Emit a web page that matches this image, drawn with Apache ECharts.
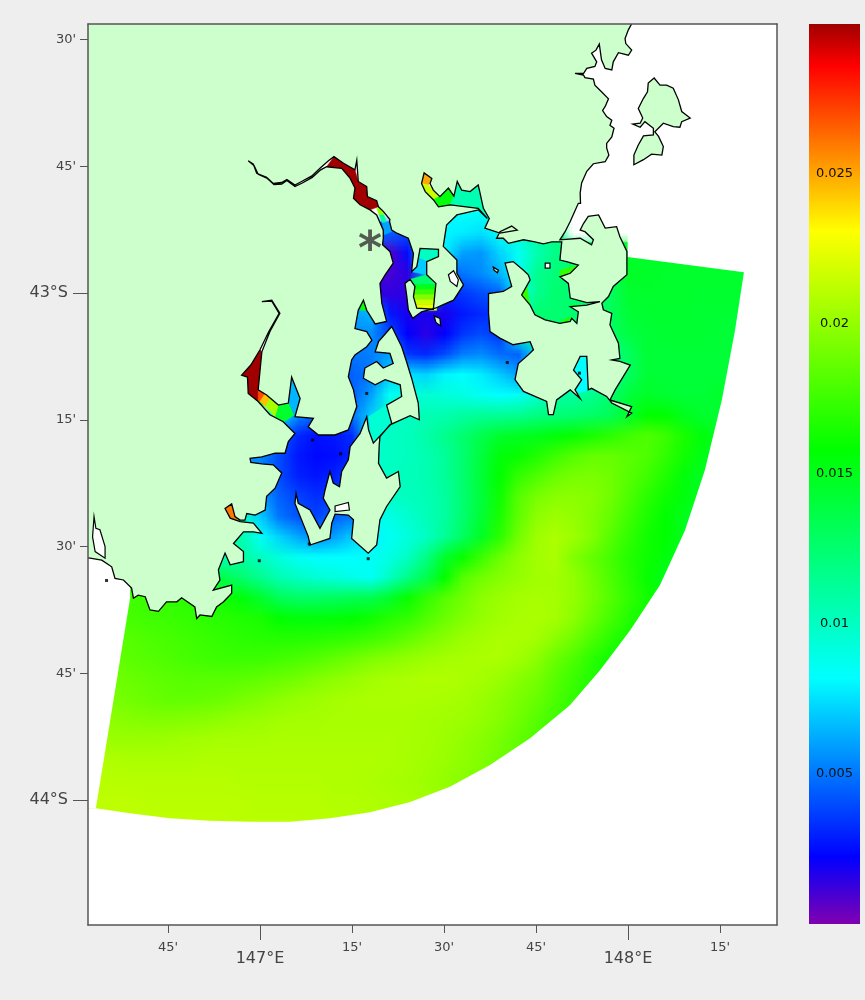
<!DOCTYPE html>
<html>
<head>
<meta charset="utf-8">
<title>Storm Bay field</title>
<style>
html, body { margin: 0; padding: 0; background: #eeeeee; }
#chart { width: 865px; height: 1000px; }
</style>
<script src="https://cdn.jsdelivr.net/npm/echarts@6/dist/echarts.min.js"></script>
</head>
<body>
<div id="chart"></div>
<script>
// axis ticks and labels
var lonMajor = [147, 148], lonMajorLabels = ['147°E', '148°E'];
var lonMinor = [146.75, 147.25, 147.5, 147.75, 148.25], lonMinorLabels = ["45'", "15'", "30'", "45'", "15'"];
var latMajor = [-43, -44], latMajorLabels = ['43°S', '44°S'];
var latMinor = [-42.5, -42.75, -43.25, -43.5, -43.75], latMinorLabels = ["30'", "45'", "15'", "30'", "45'"];
var scaleTicks = [0.005, 0.01, 0.015, 0.02, 0.025];

// colour scale: value, colour
var scaleValues = [0, 0.00223, 0.0082, 0.0158, 0.0231, 0.0286, 0.03];
var scaleColors = ['#8000b0', '#0000ff', '#00ffff', '#00ff00', '#ffff00', '#ff0000', '#a00000'];

// sampled field, units of 0.0001; first number of a row is its first column
var fieldLon0 = 146.55, fieldLonStep = 0.05, fieldLat0 = -42.80, fieldLatStep = -0.04, fieldCols = 37;
var fieldRows = [
  [],
  [18, 82, 82, 82, 85, 88],
  [15, 45, 45, 40, 40, 80, 78, 75, 85, 95, 110, 118],
  [16, 8, 25, 85, 80, 60, 58, 72, 85, 105, 118, 125, 125, 130, 146, 146, 146, 146, 146, 146, 146, 146],
  [16, 10, 15, 60, 40, 50, 55, 65, 85, 115, 122, 125, 125, 130, 146, 146, 145, 145, 145, 145, 145, 145],
  [16, 14, 14, 150, 30, 35, 40, 45, 85, 115, 125, 125, 125, 130, 144, 145, 145, 145, 144, 144, 144, 144],
  [14, 60, 65, 28, 18, 18, 18, 28, 32, 35, 90, 125, 125, 125, 125, 130, 142, 144, 144, 144, 143, 143, 143, 143],
  [14, 55, 55, 40, 22, 15, 22, 35, 40, 35, 90, 125, 125, 125, 125, 128, 138, 142, 143, 143, 143, 142, 142, 142],
  [14, 50, 52, 60, 35, 32, 40, 52, 55, 48, 45, 75, 85, 95, 95, 115, 130, 142, 142, 142, 142, 142, 142, 142],
  [10, 60, 60, 50, 50, 45, 50, 70, 75, 72, 80, 82, 78, 70, 60, 70, 80, 90, 90, 115, 130, 142, 142, 142, 142, 142, 142, 142],
  [9, 155, 60, 55, 50, 45, 45, 60, 85, 92, 95, 93, 90, 85, 82, 85, 95, 110, 110, 115, 125, 140, 146, 143, 142, 142, 145, 145],
  [10, 85, 55, 45, 45, 50, 70, 100, 100, 104, 106, 110, 113, 113, 115, 120, 122, 125, 128, 132, 145, 158, 158, 150, 145, 143, 143],
  [10, 45, 32, 26, 28, 32, 95, 100, 101, 108, 116, 125, 135, 145, 148, 150, 155, 160, 165, 170, 176, 180, 175, 165, 155, 148, 145],
  [8, 60, 55, 40, 28, 24, 25, 30, 95, 100, 101, 105, 112, 125, 140, 155, 160, 167, 175, 182, 187, 187, 184, 180, 172, 163, 152, 148],
  [8, 60, 50, 40, 30, 27, 30, 38, 95, 100, 102, 105, 112, 125, 142, 158, 172, 180, 188, 192, 193, 190, 183, 176, 167, 155, 148, 145],
  [8, 75, 60, 45, 38, 33, 35, 40, 95, 100, 101, 104, 110, 125, 140, 162, 182, 192, 197, 198, 196, 190, 180, 170, 162, 155, 148, 145],
  [7, 105, 100, 70, 50, 42, 38, 45, 50, 85, 90, 96, 103, 110, 125, 142, 165, 185, 198, 203, 200, 195, 187, 176, 166, 158, 150, 145],
  [6, 115, 115, 105, 85, 72, 62, 55, 60, 70, 80, 85, 92, 100, 113, 130, 148, 170, 190, 203, 207, 203, 195, 183, 172, 163, 158, 150, 145],
  [6, 105, 105, 110, 100, 92, 85, 82, 82, 82, 84, 90, 100, 118, 145, 160, 175, 188, 198, 204, 207, 195, 187, 178, 168, 162, 155, 148, 145],
  [2, 170, 165, 160, 150, 140, 135, 125, 115, 105, 100, 95, 92, 88, 85, 100, 118, 135, 158, 182, 190, 196, 200, 204, 205, 200, 190, 180, 170, 160, 150, 145],
  [1, 178, 176, 174, 172, 170, 166, 162, 155, 145, 132, 128, 128, 130, 133, 135, 145, 160, 172, 182, 190, 198, 202, 205, 206, 205, 200, 192, 182, 172, 163, 155, 148],
  [1, 178, 178, 176, 175, 173, 171, 169, 167, 165, 158, 155, 155, 156, 158, 162, 168, 172, 180, 188, 195, 200, 204, 206, 207, 205, 198, 188, 178, 168, 160, 155, 150],
  [0, 184, 184, 182, 180, 178, 176, 174, 172, 170, 169, 168, 168, 169, 171, 173, 176, 180, 186, 192, 197, 202, 205, 207, 207, 205, 198, 190, 180, 170, 163, 158],
  [0, 188, 186, 184, 182, 180, 178, 176, 175, 175, 175, 177, 179, 182, 186, 190, 194, 197, 200, 203, 205, 206, 207, 207, 204, 198, 188, 180, 170, 162, 158],
  [0, 194, 190, 188, 186, 184, 183, 183, 183, 184, 186, 188, 191, 195, 198, 201, 204, 206, 207, 208, 208, 207, 205, 202, 197, 192, 183, 175, 167, 162],
  [0, 197, 193, 190, 188, 186, 186, 187, 189, 192, 195, 198, 201, 203, 205, 206, 207, 207, 207, 207, 206, 205, 202, 198, 193, 188, 180, 172, 165],
  [0, 201, 198, 196, 195, 195, 196, 197, 199, 201, 202, 204, 205, 205, 206, 206, 206, 206, 206, 205, 204, 203, 200, 196, 190, 183, 176, 168],
  [0, 205, 202, 202, 202, 203, 204, 205, 206, 206, 206, 207, 207, 207, 207, 207, 207, 207, 206, 205, 203, 200, 197, 192, 186, 180, 175],
  [0, 209, 208, 207, 207, 207, 207, 208, 208, 208, 208, 208, 208, 208, 208, 208, 208, 207, 206, 204, 202, 199, 195, 190, 185],
  [0, 211, 210, 210, 210, 210, 210, 210, 210, 209, 209, 209, 209, 209, 208, 208, 207, 206, 205, 203, 200, 197, 194],
  [0, 212, 212, 212, 211, 211, 211, 211, 211, 211, 210, 210, 210, 210, 209, 209, 208, 207, 206, 204, 202],
  [0, 212, 212, 212, 212, 212, 212, 212, 212, 211, 211, 211, 211, 210, 210, 209, 208]
];

// model boundary: everything beyond it stays white
var outsideEast = [
  [146.45, -44.30], [146.45, -44.016], [146.554, -44.016], [146.647, -44.026], [146.755, -44.036], [146.864, -44.041],
  [146.973, -44.043], [147.082, -44.043], [147.190, -44.036], [147.299, -44.024], [147.408, -44.004], [147.516, -43.974],
  [147.625, -43.931], [147.734, -43.878], [147.842, -43.813], [147.924, -43.744], [148.006, -43.665], [148.087, -43.576],
  [148.155, -43.468], [148.209, -43.349], [148.255, -43.211], [148.291, -43.073], [148.315, -42.959], [147.999, -42.929],
  [147.999, -42.40], [148.45, -42.40], [148.45, -44.30]
];
var outsideWest = [[146.45, -43.45], [146.647, -43.45], [146.647, -43.602], [146.554, -44.016], [146.45, -44.016]];

// shallow inlets finer than the field rows: value, outline
var inletValues = [0.03, 0.02, 0.011, 0.006, 0.025, 0.0215, 0.0155, 0.0105, 0.0100, 0.0070, 0.0125, 0.015, 0.0175, 0.0195, 0.0215, 0.0225,
  0.03, 0.027, 0.0245, 0.0205, 0.0145, 0.0065, 0.0095, 0.016, 0.026, 0.0172, 0.0172, 0.0165, 0.0165, 0.0082];
var inletShapes = [
  [[147.181, -42.751], [147.201, -42.731], [147.227, -42.744], [147.258, -42.757], [147.267, -42.780], [147.290, -42.790], [147.292, -42.810], [147.317, -42.818], [147.322, -42.830], [147.299, -42.836], [147.272, -42.826], [147.254, -42.813], [147.258, -42.793], [147.245, -42.774], [147.222, -42.754]],
  [[147.317, -42.833], [147.331, -42.833], [147.337, -42.846], [147.324, -42.846]],
  [[147.324, -42.846], [147.337, -42.846], [147.344, -42.862], [147.333, -42.862]],
  [[147.333, -42.862], [147.352, -42.859], [147.358, -42.879], [147.337, -42.885]],
  [[147.446, -42.763], [147.467, -42.774], [147.458, -42.787], [147.439, -42.784]],
  [[147.458, -42.787], [147.471, -42.797], [147.485, -42.810], [147.471, -42.816], [147.449, -42.800], [147.439, -42.784]],
  [[147.485, -42.810], [147.517, -42.790], [147.527, -42.809], [147.517, -42.826], [147.485, -42.830], [147.471, -42.816]],
  [[147.527, -42.809], [147.536, -42.780], [147.548, -42.797], [147.571, -42.800], [147.593, -42.787], [147.598, -42.803], [147.607, -42.833], [147.618, -42.853], [147.593, -42.833], [147.517, -42.826]],
  [[147.435, -42.912], [147.485, -42.914], [147.485, -42.928], [147.453, -42.938], [147.430, -42.930]],
  [[147.430, -42.930], [147.453, -42.938], [147.453, -42.964], [147.412, -42.958], [147.426, -42.948]],
  [[147.408, -42.973], [147.453, -42.964], [147.478, -42.975], [147.478, -42.983], [147.410, -42.983]],
  [[147.410, -42.983], [147.480, -42.983], [147.480, -42.993], [147.410, -42.993]],
  [[147.410, -42.993], [147.480, -42.993], [147.480, -43.003], [147.410, -43.003]],
  [[147.410, -43.003], [147.480, -43.003], [147.480, -43.013], [147.410, -43.013]],
  [[147.410, -43.013], [147.480, -43.013], [147.480, -43.023], [147.410, -43.023]],
  [[147.410, -43.023], [147.480, -43.023], [147.480, -43.034], [147.410, -43.034]],
  [[147.005, -43.116], [146.995, -43.191], [147.005, -43.198], [146.995, -43.214], [146.968, -43.198], [146.966, -43.166], [146.950, -43.162], [146.975, -43.142], [147.000, -43.112]],
  [[146.995, -43.191], [147.014, -43.198], [147.005, -43.211], [146.995, -43.214]],
  [[147.014, -43.198], [147.027, -43.206], [147.015, -43.224], [147.000, -43.214]],
  [[147.027, -43.206], [147.053, -43.219], [147.041, -43.245], [147.015, -43.224]],
  [[147.053, -43.219], [147.080, -43.219], [147.092, -43.241], [147.063, -43.255], [147.041, -43.245]],
  [[147.086, -43.166], [147.109, -43.208], [147.095, -43.244], [147.080, -43.219]],
  [[147.295, -43.244], [147.344, -43.221], [147.358, -43.257], [147.308, -43.296]],
  [[147.281, -43.014], [147.290, -43.034], [147.272, -43.034]],
  [[146.923, -43.416], [146.937, -43.435], [146.946, -43.448], [146.919, -43.444], [146.905, -43.425]],
  [[147.711, -43.004], [147.725, -42.987], [147.734, -43.024]],
  [[147.815, -42.955], [147.865, -42.945], [147.843, -42.964], [147.815, -42.969]],
  [[147.824, -43.053], [147.843, -43.047], [147.844, -43.060], [147.815, -43.060]],
  [[147.843, -43.024], [147.888, -43.024], [147.870, -43.030]],
  [[147.870, -43.125], [147.888, -43.125], [147.892, -43.191], [147.870, -43.197], [147.856, -43.191], [147.874, -43.171], [147.852, -43.152]]
];

// coast, lon/lat; the land runs on past the frame and is clipped there
var mainland = [
  [146.45, -42.40], [148.035, -42.40], [148.010, -42.469], [148.001, -42.481], [147.992, -42.498], [147.994, -42.508], [148.010, -42.521], [148.001, -42.531], [147.974, -42.526],
  [147.960, -42.544], [147.956, -42.560], [147.938, -42.557], [147.928, -42.540], [147.922, -42.509], [147.913, -42.521], [147.901, -42.527], [147.915, -42.544], [147.910, -42.553],
  [147.888, -42.557], [147.879, -42.567], [147.856, -42.567], [147.879, -42.570], [147.883, -42.575], [147.906, -42.578], [147.910, -42.590], [147.928, -42.603], [147.947, -42.617],
  [147.938, -42.632], [147.931, -42.640], [147.942, -42.652], [147.956, -42.659], [147.951, -42.669], [147.962, -42.675], [147.956, -42.692], [147.942, -42.705], [147.942, -42.714],
  [147.948, -42.728], [147.938, -42.741], [147.906, -42.745], [147.888, -42.760], [147.874, -42.783], [147.870, -42.803], [147.871, -42.823],
  [147.865, -42.823], [147.843, -42.859], [147.829, -42.879], [147.815, -42.895],
  [147.870, -42.892], [147.901, -42.905], [147.906, -42.895], [147.883, -42.879], [147.870, -42.876], [147.879, -42.863], [147.892, -42.849], [147.920, -42.846], [147.938, -42.872],
  [147.969, -42.869], [147.978, -42.889], [147.997, -42.918], [147.997, -42.964], [147.960, -42.987], [147.947, -43.007], [147.929, -43.020], [147.933, -43.033], [147.956, -43.040],
  [147.951, -43.063], [147.974, -43.099], [147.978, -43.129], [147.956, -43.132], [147.978, -43.135], [148.006, -43.142], [147.987, -43.165], [147.965, -43.191], [147.951, -43.211],
  [148.010, -43.224], [147.997, -43.244], [148.010, -43.237], [147.956, -43.217], [147.942, -43.204], [147.901, -43.188], [147.892, -43.191], [147.888, -43.125], [147.870, -43.125],
  [147.852, -43.152], [147.874, -43.171], [147.856, -43.191], [147.870, -43.208], [147.843, -43.191], [147.806, -43.211], [147.797, -43.240], [147.784, -43.240], [147.779, -43.214],
  [147.716, -43.194], [147.693, -43.171], [147.702, -43.139], [147.729, -43.122], [147.743, -43.112], [147.734, -43.096], [147.688, -43.102], [147.652, -43.089], [147.625, -43.076],
  [147.621, -43.040], [147.621, -43.001], [147.661, -42.997], [147.684, -42.987], [147.666, -42.941], [147.688, -42.938], [147.716, -42.955], [147.729, -42.964], [147.734, -42.974],
  [147.711, -43.004], [147.734, -43.024], [147.747, -43.043], [147.775, -43.053], [147.815, -43.060], [147.843, -43.056], [147.847, -43.050], [147.861, -43.060], [147.865, -43.037],
  [147.843, -43.027], [147.888, -43.024], [147.924, -43.017], [147.888, -43.019], [147.843, -43.010], [147.838, -42.981], [147.815, -42.968], [147.843, -42.961], [147.865, -42.945],
  [147.833, -42.938], [147.815, -42.935], [147.820, -42.899], [147.793, -42.899], [147.770, -42.903], [147.747, -42.899], [147.716, -42.895], [147.675, -42.902], [147.661, -42.892],
  [147.643, -42.892], [147.652, -42.879], [147.684, -42.868], [147.699, -42.876], [147.652, -42.882], [147.611, -42.872], [147.623, -42.853],
  [147.607, -42.833], [147.598, -42.803], [147.593, -42.787], [147.571, -42.800], [147.548, -42.797], [147.536, -42.780], [147.527, -42.809], [147.512, -42.793], [147.489, -42.810],
  [147.471, -42.797], [147.462, -42.784], [147.467, -42.774], [147.446, -42.763], [147.439, -42.784], [147.449, -42.800], [147.471, -42.816], [147.485, -42.830], [147.517, -42.826],
  [147.593, -42.833], [147.618, -42.853], [147.593, -42.836], [147.535, -42.846], [147.507, -42.866], [147.498, -42.908], [147.535, -42.935], [147.535, -42.961], [147.553, -42.984],
  [147.526, -43.014], [147.498, -43.023], [147.476, -43.030], [147.439, -43.037], [147.415, -43.050], [147.403, -43.033], [147.399, -43.007], [147.394, -42.981], [147.408, -42.973],
  [147.421, -42.987], [147.417, -43.007], [147.426, -43.030], [147.471, -43.032], [147.478, -42.981], [147.453, -42.964], [147.453, -42.938], [147.485, -42.928], [147.485, -42.914],
  [147.435, -42.912], [147.426, -42.948], [147.412, -42.958], [147.417, -42.922], [147.403, -42.892], [147.372, -42.882], [147.358, -42.876], [147.352, -42.859], [147.353, -42.855],
  [147.335, -42.839], [147.322, -42.830], [147.317, -42.818], [147.292, -42.810], [147.290, -42.790], [147.267, -42.780], [147.263, -42.738], [147.258, -42.757], [147.227, -42.744],
  [147.201, -42.731], [147.186, -42.739], [147.163, -42.754], [147.141, -42.769], [147.113, -42.780], [147.095, -42.787], [147.073, -42.776], [147.059, -42.782], [147.036, -42.784],
  [147.018, -42.772], [146.991, -42.764], [146.982, -42.746], [146.968, -42.739], [146.984, -42.749], [146.995, -42.766], [147.020, -42.774], [147.038, -42.786], [147.059, -42.785],
  [147.073, -42.778], [147.095, -42.790], [147.115, -42.783], [147.142, -42.772], [147.165, -42.757], [147.181, -42.751], [147.222, -42.754], [147.245, -42.774], [147.258, -42.793],
  [147.254, -42.813], [147.272, -42.826], [147.299, -42.836], [147.317, -42.846], [147.335, -42.876], [147.335, -42.892], [147.333, -42.905], [147.353, -42.918], [147.362, -42.941],
  [147.340, -42.964], [147.326, -42.981], [147.331, -43.020], [147.344, -43.056], [147.313, -43.061], [147.290, -43.034], [147.281, -43.014], [147.267, -43.034], [147.258, -43.070],
  [147.290, -43.076], [147.304, -43.093], [147.290, -43.106], [147.258, -43.122], [147.249, -43.132], [147.240, -43.165], [147.254, -43.191], [147.263, -43.224], [147.240, -43.270],
  [147.204, -43.280], [147.159, -43.280], [147.131, -43.264], [147.145, -43.247], [147.095, -43.244], [147.109, -43.208], [147.086, -43.166], [147.077, -43.217], [147.050, -43.221],
  [147.018, -43.201], [146.995, -43.191], [147.005, -43.116], [147.027, -43.076], [147.054, -43.040], [147.032, -43.014], [147.005, -43.017], [147.032, -43.016], [147.052, -43.040],
  [147.024, -43.076], [147.000, -43.112], [146.975, -43.142], [146.950, -43.162], [146.966, -43.166], [146.968, -43.198], [146.995, -43.214], [147.027, -43.240], [147.063, -43.254],
  [147.095, -43.277], [147.077, -43.293], [147.068, -43.316], [147.041, -43.316], [147.005, -43.323], [146.973, -43.326], [146.975, -43.334], [147.005, -43.337], [147.036, -43.339],
  [147.059, -43.355], [147.041, -43.385], [147.018, -43.401], [147.014, -43.428], [146.987, -43.438], [146.964, -43.435], [146.959, -43.448], [146.946, -43.448], [146.932, -43.441],
  [146.923, -43.416], [146.905, -43.425], [146.919, -43.444], [146.946, -43.451], [146.982, -43.454], [147.005, -43.474], [146.982, -43.471], [146.955, -43.471], [146.928, -43.494],
  [146.955, -43.510], [146.955, -43.530], [146.919, -43.536], [146.905, -43.513], [146.887, -43.546], [146.891, -43.566], [146.873, -43.586], [146.923, -43.576], [146.923, -43.592],
  [146.901, -43.609], [146.882, -43.619], [146.869, -43.638], [146.837, -43.635], [146.828, -43.642], [146.823, -43.619], [146.787, -43.601], [146.774, -43.609], [146.746, -43.609],
  [146.724, -43.628], [146.701, -43.625], [146.688, -43.599], [146.669, -43.596], [146.656, -43.602], [146.651, -43.582], [146.629, -43.566], [146.606, -43.563], [146.597, -43.540],
  [146.570, -43.527], [146.538, -43.523], [146.45, -43.515]
];
var bruny = [
  [147.358, -43.066], [147.385, -43.106], [147.398, -43.135], [147.412, -43.168], [147.430, -43.217], [147.433, -43.250], [147.408, -43.242], [147.353, -43.260], [147.326, -43.283],
  [147.324, -43.300], [147.322, -43.336], [147.344, -43.365], [147.376, -43.352], [147.381, -43.382], [147.344, -43.421], [147.326, -43.447], [147.317, -43.497], [147.294, -43.513],
  [147.249, -43.484], [147.254, -43.447], [147.240, -43.438], [147.204, -43.436], [147.195, -43.454], [147.190, -43.484], [147.136, -43.497], [147.131, -43.480], [147.095, -43.415],
  [147.098, -43.395], [147.104, -43.415], [147.136, -43.428], [147.163, -43.464], [147.190, -43.428], [147.172, -43.405], [147.177, -43.388], [147.190, -43.352], [147.199, -43.375],
  [147.216, -43.382], [147.222, -43.352], [147.240, -43.329], [147.245, -43.303], [147.272, -43.277], [147.290, -43.244], [147.295, -43.270], [147.308, -43.296], [147.358, -43.257],
  [147.344, -43.221], [147.385, -43.204], [147.381, -43.181], [147.340, -43.171], [147.313, -43.181], [147.281, -43.168], [147.285, -43.148], [147.317, -43.135], [147.335, -43.148],
  [147.362, -43.139], [147.353, -43.119], [147.313, -43.116], [147.322, -43.096]
];
var mariaIsland = [
  [148.071, -42.576], [148.055, -42.586], [148.053, -42.603], [148.042, -42.616], [148.028, -42.636], [148.040, -42.655], [148.033, -42.665], [148.013, -42.667], [148.033, -42.673],
  [148.046, -42.662], [148.069, -42.675], [148.069, -42.688], [148.042, -42.690], [148.028, -42.708], [148.016, -42.728], [148.016, -42.747], [148.042, -42.737], [148.064, -42.726],
  [148.092, -42.728], [148.096, -42.711], [148.083, -42.691], [148.073, -42.682], [148.096, -42.665], [148.123, -42.672], [148.141, -42.673], [148.146, -42.662], [148.169, -42.655],
  [148.146, -42.642], [148.137, -42.619], [148.123, -42.596], [148.105, -42.590], [148.087, -42.590]
];
var smallIslands = [
  [[147.473, -43.045], [147.489, -43.050], [147.491, -43.065], [147.478, -43.058]],
  [[147.634, -42.949], [147.648, -42.955], [147.645, -42.960], [147.636, -42.955]]
];
var lagoons = [
  [[146.549, -43.441], [146.554, -43.464], [146.565, -43.467], [146.579, -43.500], [146.579, -43.523], [146.552, -43.510], [146.545, -43.481]],
  [[147.512, -42.964], [147.526, -42.956], [147.539, -42.974], [147.535, -42.987], [147.517, -42.977]],
  [[147.204, -43.420], [147.240, -43.413], [147.243, -43.428], [147.204, -43.431]],
  [[147.775, -42.941], [147.788, -42.941], [147.788, -42.951], [147.775, -42.951]]
];
var islets = [
  [147.219, -43.317], [147.290, -43.198], [147.143, -43.290], [147.134, -43.495], [147.294, -43.524], [146.998, -43.528],
  [147.672, -43.137], [147.868, -43.158], [146.583, -43.567]
];
var stationMark = [[147.299, -42.897]];

function colorParts(v) {
  var i = 1;
  while (i < scaleValues.length - 1 && v > scaleValues[i]) i++;
  var t = Math.max(0, Math.min(1, (v - scaleValues[i - 1]) / (scaleValues[i] - scaleValues[i - 1])));
  var a = echarts.color.parse(scaleColors[i - 1]), b = echarts.color.parse(scaleColors[i]);
  return [0, 1, 2].map(function (k) { return Math.round(a[k] + (b[k] - a[k]) * t); });
}
function colorOf(v) {
  return 'rgb(' + colorParts(v).join(',') + ')';
}

var fieldData = [];
fieldRows.forEach(function (row, r) {
  for (var k = 1; k < row.length; k++) {
    fieldData.push([fieldLon0 + (row[0] + k - 1) * fieldLonStep, fieldLat0 + r * fieldLatStep, row[k] / 10000]);
  }
});

// one pixel per sample, the browser smooths it when the image is scaled up
var fieldImage = document.createElement('canvas');
fieldImage.width = fieldCols;
fieldImage.height = fieldRows.length;
(function () {
  var ctx = fieldImage.getContext('2d');
  var img = ctx.createImageData(fieldCols, fieldRows.length);
  fieldRows.forEach(function (row, r) {
    for (var k = 1; k < row.length; k++) {
      var at = (r * fieldCols + row[0] + k - 1) * 4, c = colorParts(row[k] / 10000);
      img.data[at] = c[0]; img.data[at + 1] = c[1]; img.data[at + 2] = c[2]; img.data[at + 3] = 255;
    }
  });
  ctx.putImageData(img, 0, 0);
})();

function renderCell(params, api) {
  var lon = api.value(0), lat = api.value(1), color = colorOf(api.value(2));
  var a = api.coord([lon - fieldLonStep / 2, lat - fieldLatStep / 2]);
  var b = api.coord([lon + fieldLonStep / 2, lat + fieldLatStep / 2]);
  return {
    type: 'rect',
    shape: { x: a[0], y: a[1], width: b[0] - a[0], height: b[1] - a[1] },
    style: { fill: color, stroke: color, lineWidth: 0.6 }
  };
}

function renderFieldImage(params, api) {
  var a = api.coord([fieldLon0 - fieldLonStep / 2, fieldLat0 - fieldLatStep / 2]);
  var b = api.coord([fieldLon0 + (fieldCols - 0.5) * fieldLonStep, fieldLat0 + (fieldRows.length - 0.5) * fieldLatStep]);
  return {
    type: 'image',
    style: { image: fieldImage, x: a[0], y: a[1], width: b[0] - a[0], height: b[1] - a[1] }
  };
}

function polygonSeries(shapes, z, style) {
  return {
    type: 'custom', xAxisIndex: 0, yAxisIndex: 0, z: z, clip: true, silent: true,
    encode: { x: 0, y: 1 },
    data: shapes.map(function (s, i) { return [s[0][0], s[0][1], i]; }),
    renderItem: function (params, api) {
      var i = api.value(2);
      return {
        type: 'polygon',
        shape: { points: shapes[i].map(function (p) { return api.coord(p); }) },
        style: typeof style === 'function' ? style(i) : style
      };
    }
  };
}

function pick(ticks, labels) {
  return function (v) { return labels[ticks.indexOf(v)]; };
}

var gradientStops = scaleValues.map(function (v, i) {
  return { offset: 1 - v / 0.03, color: scaleColors[i] };
});

var lonRange = { min: 146.5326, max: 148.4049 };
var latRange = { min: -44.2465, max: -42.4694 };
var axisColor = '#555555', labelColor = '#444444';

var chart = echarts.init(document.getElementById('chart'));
chart.setOption({
  animation: false,
  backgroundColor: '#eeeeee',
  textStyle: { fontFamily: 'DejaVu Sans' },
  grid: [
    { left: 88, top: 24, width: 689, height: 901, show: true, backgroundColor: '#ffffff', borderWidth: 0 },
    { left: 809, top: 24, width: 51, height: 900 }
  ],
  xAxis: [
    { type: 'value', gridIndex: 0, position: 'bottom', z: 10, min: lonRange.min, max: lonRange.max, splitLine: { show: false },
      axisLine: { onZero: false, lineStyle: { color: axisColor, width: 1.5 } },
      axisTick: { length: 15, customValues: lonMajor, lineStyle: { color: axisColor } },
      axisLabel: { customValues: lonMajor, formatter: pick(lonMajor, lonMajorLabels), margin: 26, fontSize: 16, color: labelColor } },
    { type: 'value', gridIndex: 0, position: 'bottom', z: 10, min: lonRange.min, max: lonRange.max, splitLine: { show: false },
      axisLine: { onZero: false, show: false },
      axisTick: { length: 8, customValues: lonMinor, lineStyle: { color: axisColor } },
      axisLabel: { customValues: lonMinor, formatter: pick(lonMinor, lonMinorLabels), margin: 16, fontSize: 13, color: labelColor } },
    { type: 'category', gridIndex: 1, data: ['scale'], show: false },
    { type: 'value', gridIndex: 0, position: 'top', z: 10, min: lonRange.min, max: lonRange.max, splitLine: { show: false },
      axisLine: { onZero: false, lineStyle: { color: axisColor, width: 1.5 } }, axisTick: { show: false }, axisLabel: { show: false } }
  ],
  yAxis: [
    { type: 'value', gridIndex: 0, position: 'left', z: 10, min: latRange.min, max: latRange.max, splitLine: { show: false },
      axisLine: { onZero: false, lineStyle: { color: axisColor, width: 1.5 } },
      axisTick: { length: 15, customValues: latMajor, lineStyle: { color: axisColor } },
      axisLabel: { customValues: latMajor, formatter: pick(latMajor, latMajorLabels), margin: 20, fontSize: 16, color: labelColor, padding: [6, 0, 0, 0] } },
    { type: 'value', gridIndex: 0, position: 'left', z: 10, min: latRange.min, max: latRange.max, splitLine: { show: false },
      axisLine: { onZero: false, show: false },
      axisTick: { length: 8, customValues: latMinor, lineStyle: { color: axisColor } },
      axisLabel: { customValues: latMinor, formatter: pick(latMinor, latMinorLabels), margin: 12, fontSize: 13, color: labelColor, padding: [6, 0, 0, 0] } },
    { type: 'value', gridIndex: 1, position: 'left', min: 0, max: 0.03, z: 10, splitLine: { show: false },
      axisLine: { onZero: false, lineStyle: { color: '#111111', width: 1.5 } },
      axisTick: { inside: true, length: 7, customValues: scaleTicks, lineStyle: { color: '#111111' } },
      axisLabel: { inside: true, customValues: scaleTicks, margin: 25.5, align: 'center', fontSize: 13, color: '#111111', formatter: function (v) { return String(v); } } },
    { type: 'value', gridIndex: 1, position: 'right', min: 0, max: 0.03, z: 10, splitLine: { show: false },
      axisLine: { onZero: false, lineStyle: { color: '#111111', width: 1.5 } },
      axisTick: { inside: true, length: 7, customValues: scaleTicks, lineStyle: { color: '#111111' } },
      axisLabel: { show: false } },
    { type: 'value', gridIndex: 0, position: 'right', z: 10, min: latRange.min, max: latRange.max, splitLine: { show: false },
      axisLine: { onZero: false, lineStyle: { color: axisColor, width: 1.5 } }, axisTick: { show: false }, axisLabel: { show: false } }
  ],
  series: [
    { type: 'custom', xAxisIndex: 0, yAxisIndex: 0, z: 1, clip: true, silent: true, encode: { x: 0, y: 1 }, data: fieldData, renderItem: renderCell },
    { type: 'custom', xAxisIndex: 0, yAxisIndex: 0, z: 1, clip: true, silent: true, encode: { x: 0, y: 1 }, data: [[fieldLon0, fieldLat0]], renderItem: renderFieldImage },
    polygonSeries([outsideEast, outsideWest], 2, { fill: '#ffffff' }),
    polygonSeries(inletShapes, 3, function (i) { var c = colorOf(inletValues[i]); return { fill: c, stroke: c, lineWidth: 0.5 }; }),
    polygonSeries([mainland, bruny, mariaIsland].concat(smallIslands), 4, { fill: '#ccffcc', stroke: '#000000', lineWidth: 1.3 }),
    polygonSeries(lagoons, 5, { fill: '#ffffff', stroke: '#000000', lineWidth: 1.2 }),
    { type: 'scatter', xAxisIndex: 0, yAxisIndex: 0, z: 6, silent: true, symbol: 'rect', symbolSize: 3, itemStyle: { color: '#000000' }, data: islets },
    { type: 'scatter', xAxisIndex: 0, yAxisIndex: 0, z: 7, silent: true, symbolSize: 0, data: stationMark,
      label: { show: true, position: 'inside', formatter: '*', fontSize: 46, fontWeight: 'bold', color: '#333333', offset: [0, 11] } },
    { type: 'bar', xAxisIndex: 2, yAxisIndex: 2, z: 1, silent: true, barWidth: '100%', data: [0.03],
      itemStyle: { color: new echarts.graphic.LinearGradient(0, 0, 0, 1, gradientStops.slice().reverse()) } }
  ]
});
</script>
</body>
</html>
